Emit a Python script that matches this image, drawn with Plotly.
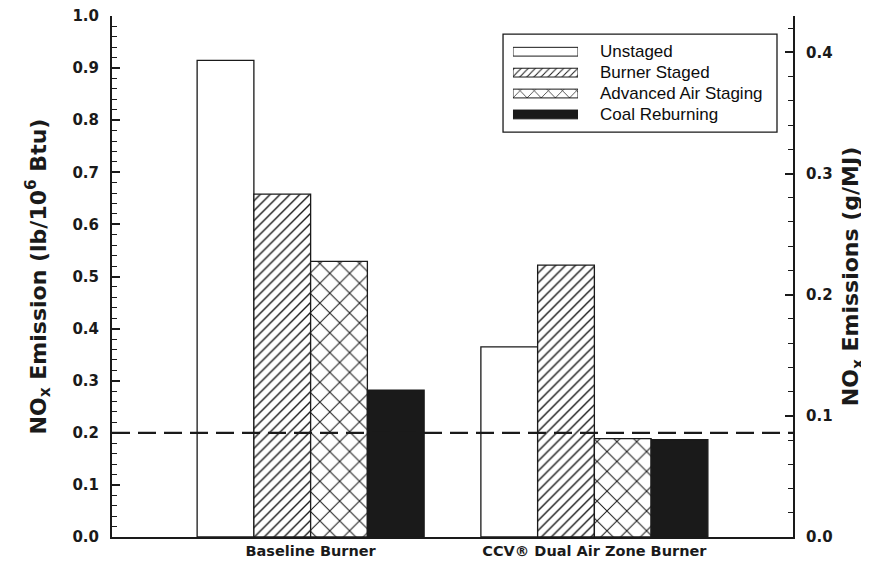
import plotly.graph_objects as go

categories = ["Baseline Burner", "CCV® Dual Air Zone Burner"]
series_names = ["Unstaged", "Burner Staged", "Advanced Air Staging", "Coal Reburning"]
unstaged = [0.915, 0.365]
burner_staged = [0.658, 0.522]
advanced_air_staging = [0.529, 0.189]
coal_reburning = [0.282, 0.187]
limit_value = 0.2
lb_to_gmj = 0.43

series_values = [unstaged, burner_staged, advanced_air_staging, coal_reburning]
fill_colors = ["white", "white", "white", "#1a1a1a"]
pattern_shapes = ["", "/", "x", ""]
pattern_sizes = [8, 7, 14, 8]
pattern_solidity = [0.2, 0.2, 0.14, 0.2]
legend_pattern_sizes = [8, 5, 10, 8]

FONT = "Liberation Sans, Arial, sans-serif"
HEAVY = "DejaVu Sans, Liberation Sans, Arial, sans-serif"
INK = "#1a1a1a"

fig = go.Figure()

for name, vals, col, shp, sz, sol in zip(series_names, series_values, fill_colors,
                                         pattern_shapes, pattern_sizes, pattern_solidity):
    fig.add_trace(go.Bar(
        x=categories, y=vals, name=name, showlegend=False,
        marker=dict(color=col, line=dict(color=INK, width=1.3),
                    pattern=dict(shape=shp, size=sz, solidity=sol,
                                 fgcolor=INK, bgcolor=col, fillmode="replace")),
        xaxis="x", yaxis="y",
    ))

# invisible trace to anchor right axis
fig.add_trace(go.Scatter(x=[categories[0]], y=[0], mode="markers", opacity=0,
                         showlegend=False, hoverinfo="skip", xaxis="x", yaxis="y2"))

# custom legend swatches (one trace per series, explicit offset -> overlay placement)
for name, col, shp, sz, sol in zip(series_names, fill_colors, pattern_shapes,
                                   legend_pattern_sizes, pattern_solidity):
    fig.add_trace(go.Bar(
        x=[1], y=[name], orientation="h", width=0.42, offset=-0.21,
        showlegend=False, hoverinfo="skip",
        marker=dict(color=col, line=dict(color=INK, width=1),
                    pattern=dict(shape=shp, size=sz, solidity=sol, fgcolor=INK,
                                 bgcolor=col, fillmode="replace")),
        xaxis="x3", yaxis="y3",
    ))

for name in series_names:
    fig.add_annotation(x=0.7137, xref="paper", y=name, yref="y3", text=name,
                       showarrow=False, xanchor="left", yanchor="middle",
                       font=dict(family=FONT, size=17, color="#0d0d0d"))

# legend frame
fig.add_shape(type="rect", xref="paper", yref="paper", x0=0.5742, x1=0.9765,
              y0=0.7772, y1=0.9654, line=dict(color=INK, width=1.3),
              fillcolor="rgba(0,0,0,0)", layer="below")

# dashed limit line
fig.add_shape(type="line", xref="paper", yref="y", x0=0, x1=1,
              y0=limit_value, y1=limit_value,
              line=dict(color=INK, width=2.3, dash="18px,8px"), layer="above")

tickfont = dict(family=HEAVY, size=15, color=INK, weight="bold")
titlefont = dict(family=HEAVY, size=22, color=INK, weight="bold")

fig.update_layout(
    width=861, height=559,
    margin=dict(l=104, r=76, t=8, b=30, autoexpand=False),
    paper_bgcolor="white", plot_bgcolor="white",
    barmode="group", bargap=0.2, bargroupgap=0,
    showlegend=False,
    xaxis=dict(range=[-0.7, 1.7], showline=True, linecolor=INK, linewidth=2,
               ticks="", tickfont=dict(family=HEAVY, size=14.5, color=INK, weight="bold"),
               showgrid=False, zeroline=False, fixedrange=True),
    yaxis=dict(range=[0, 1.00001], tick0=0, dtick=0.1, tickformat=".1f", showline=True,
               linecolor=INK, linewidth=2, ticks="inside", ticklen=8, tickwidth=1.5,
               tickcolor=INK, showgrid=False, zeroline=False, tickfont=tickfont,
               ticklabelstandoff=8, ticklabeloverflow="allow",
               minor=dict(dtick=0.02, ticks="inside", ticklen=5, tickcolor=INK, tickwidth=1),
               title=dict(text="NO<sub>x</sub> Emission (lb/10<sup>6</sup> Btu)",
                          font=titlefont, standoff=20)),
    yaxis2=dict(range=[0, 1.00001 * lb_to_gmj], overlaying="y", side="right",
                tick0=0, dtick=0.1, tickformat=".1f", showline=True, linecolor=INK, linewidth=2,
                ticks="inside", ticklen=8, tickwidth=1.5, tickcolor=INK,
                showgrid=False, zeroline=False, tickfont=tickfont, ticklabelstandoff=8,
                ticklabeloverflow="allow",
                minor=dict(dtick=0.02, ticks="inside", ticklen=5, tickcolor=INK, tickwidth=1),
                title=dict(text="NO<sub>x</sub> Emissions (g/MJ)", font=titlefont, standoff=11)),
    xaxis3=dict(domain=[0.5888, 0.6843], range=[0, 1], visible=False, fixedrange=True),
    yaxis3=dict(domain=[0.7910, 0.9515], range=[3.5, -0.5], visible=False,
                type="category", anchor="x3", fixedrange=True),
)

fig.write_html("out.html")
